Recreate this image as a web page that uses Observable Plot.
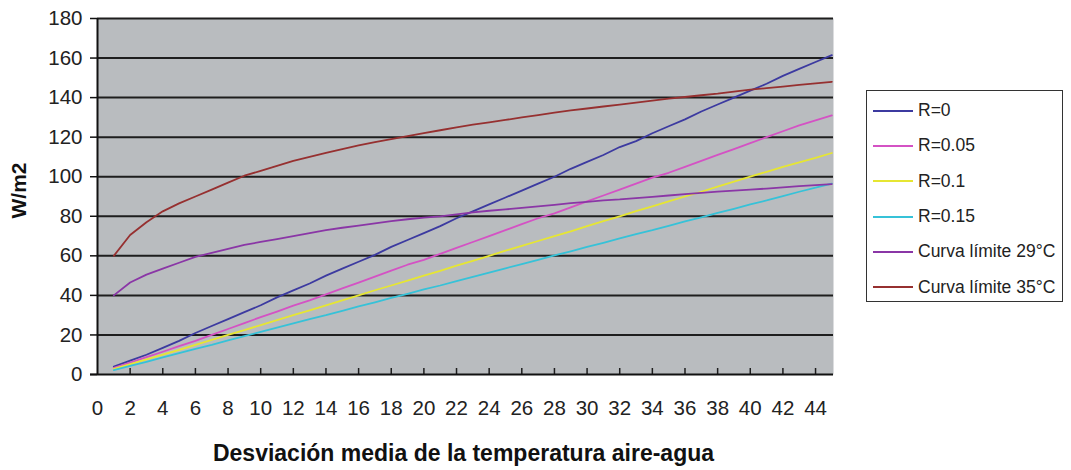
<!DOCTYPE html>
<html>
<head>
<meta charset="utf-8">
<script src="https://cdn.jsdelivr.net/npm/d3@7"></script>
<script src="https://cdn.jsdelivr.net/npm/@observablehq/plot@0.6"></script>
<style>
  html, body { margin: 0; padding: 0; background: #fff; }
  #wrap { position: relative; width: 1071px; height: 470px; font-family: "Liberation Sans", Arial, sans-serif; }
  #legend { position: absolute; left: 866px; top: 90px; width: 197px; height: 212px; border: 1.5px solid #333; background: #fff; box-sizing: border-box; padding-top: 2px; }
  .item { display: flex; align-items: center; height: 35.3px; font-size: 17.5px; color: #222; }
  .sw { width: 40px; height: 2px; margin-left: 6px; margin-right: 5px; }
</style>
</head>
<body>
<div id="wrap"><div id="legend"></div></div>
<script>
const xs = [1,2,3,4,5,6,7,8,9,10,11,12,13,14,15,16,17,18,19,20,21,22,23,24,25,26,27,28,29,30,31,32,33,34,35,36,37,38,39,40,41,42,43,44,45];
const seriesNames = ["R=0","R=0.05","R=0.1","R=0.15","Curva límite 29°C","Curva límite 35°C"];
const seriesColors = ["#3c3aa0","#d452c4","#e6e632","#36c2d8","#8a36a6","#963030"];
const r0    = [4,7,10,13.5,17,21,24.5,28,31.5,35,39,42.5,46,50,53.5,57,60.5,64.5,68,71.5,75,79,82.5,86,89.5,93,96.5,100,104,107.5,111,115,118,122,125.5,129,133,136.5,140,143.5,147,151,154.5,158,161.5];
const r005  = [3.3,6,8.8,11.5,14.3,17,20,23,26,29,31.8,34.8,37.5,40.5,43.5,46.5,49.5,52.5,55.5,58,61,64,67,70,73,76,79,81.5,84.5,87.5,90.5,93.5,96.5,99.5,102,105,108,111,114,117,120,123,126,128.5,131];
const r01   = [2.8,5.2,7.6,10,12.4,15,17.5,20,22.4,25,27.5,30,32.4,35,37.5,40,42.6,45,47.5,50,52.4,55,57.5,60,62.6,65,67.5,70,72.4,75,77.5,80,82.6,85,87.5,90,92.4,95,97.5,100,102.5,105,107.2,109.5,112];
const r015  = [2.2,4.3,6.4,8.6,10.8,13,15,17.2,19.4,21.5,23.7,25.8,28,30,32.2,34.4,36.5,38.7,40.8,43,45,47.2,49.4,51.5,53.7,55.8,58,60.2,62.3,64.5,66.6,68.8,71,73,75.2,77.4,79.5,81.7,83.8,86,88,90.2,92.4,94.5,96.5];
const c29   = [40,46.5,50.5,53.5,56.5,59.5,61.5,63.5,65.5,67,68.5,70,71.5,73,74.2,75.3,76.4,77.5,78.5,79.3,80,81,82,82.8,83.5,84.2,85,85.8,86.6,87.3,88,88.5,89.2,89.8,90.5,91.2,91.8,92.5,93,93.5,94,94.6,95.2,95.8,96.3];
const c35   = [60,70.5,77,82.5,86.5,90,93.5,97,100.5,103,105.5,108,110,112,114,115.8,117.5,119,120.5,122,123.5,125,126.3,127.5,128.7,130,131.2,132.4,133.5,134.5,135.5,136.5,137.5,138.5,139.5,140.3,141.2,142,143,144,144.8,145.6,146.4,147.2,148];
const xTicks = [0,2,4,6,8,10,12,14,16,18,20,22,24,26,28,30,32,34,36,38,40,42,44];
const yTicks = [0,20,40,60,80,100,120,140,160,180];
const xTitle = "Desviación media de la temperatura aire-agua";
const yTitle = "W/m2";

const allSeries = [r0, r005, r01, r015, c29, c35];
const rows = [];
allSeries.forEach((vals, i) => vals.forEach((v, j) => rows.push({x: xs[j], y: v, s: seriesNames[i]})));

const font = "Liberation Sans, Arial, sans-serif";
const chart = Plot.plot({
  width: 1071,
  height: 470,
  marginLeft: 97,
  marginRight: 238,
  marginTop: 18,
  marginBottom: 96,
  style: {fontFamily: font, color: "#222", background: "transparent"},
  x: {domain: [0, 45.1]},
  y: {domain: [0, 180]},
  color: {domain: seriesNames, range: seriesColors},
  marks: [
    Plot.frame({fill: "#b9bcbf", stroke: null}),
    Plot.ruleY(yTicks.filter(d => d > 0), {stroke: "#1e1e1e", strokeWidth: 2}),
    Plot.tickX(xTicks.filter(d => d > 0), {stroke: "#1e1e1e", strokeWidth: 1.5, insetTop: 350}),
    Plot.line(rows, {x: "x", y: "y", z: "s", stroke: "s", strokeWidth: 1.8}),
    Plot.ruleX([0], {stroke: "#111", strokeWidth: 2}),
    Plot.ruleY([0], {stroke: "#111", strokeWidth: 2, insetLeft: -7}),
    Plot.axisY({ticks: yTicks, tickSize: 7, tickPadding: 8, fontSize: 20.5, label: null, stroke: "#111", strokeWidth: 1.5}),
    Plot.axisX({ticks: xTicks, tickSize: 0, tickPadding: 26, fontSize: 20.5, label: null}),
    Plot.text([yTitle], {frameAnchor: "left", dx: -78, dy: 22, rotate: -90, fontSize: 21, fontWeight: "bold", fill: "#111"}),
    Plot.text([xTitle], {frameAnchor: "bottom", dx: -2, dy: 86, fontSize: 23, fontWeight: "bold", fill: "#111"})
  ]
});
const wrap = document.getElementById("wrap");
wrap.insertBefore(chart, wrap.firstChild);

const legend = d3.select("#legend");
seriesNames.forEach((n, i) => {
  const it = legend.append("div").attr("class", "item");
  it.append("div").attr("class", "sw").style("background", seriesColors[i]);
  it.append("span").text(n);
});
</script>
</body>
</html>
